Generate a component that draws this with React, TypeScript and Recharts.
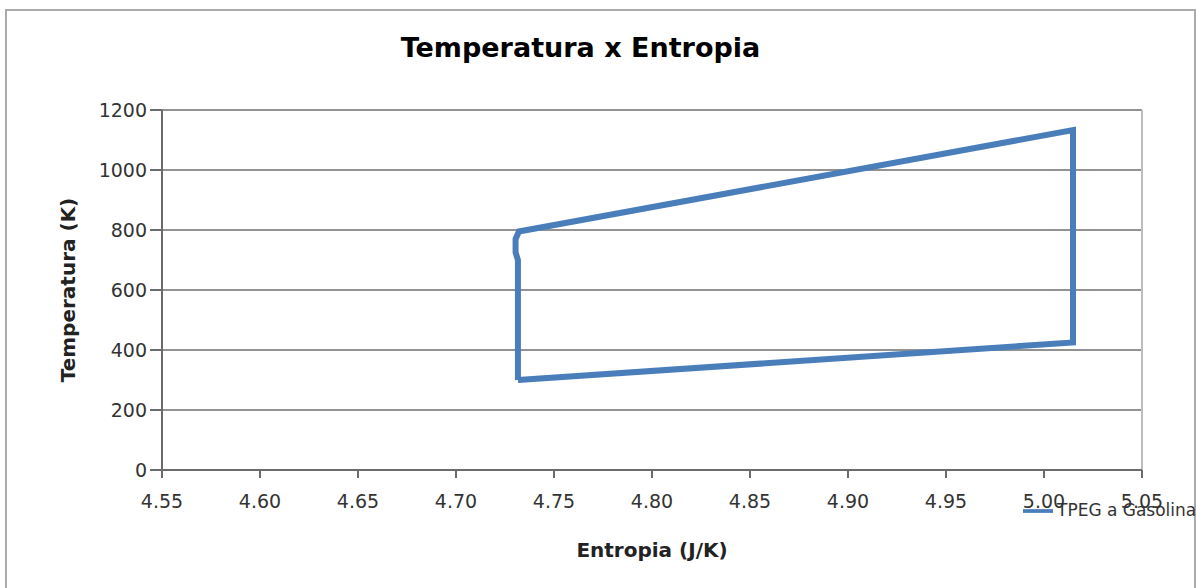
import React from "react";
import {
  LineChart,
  Line,
  XAxis,
  YAxis,
  CartesianGrid,
  Legend,
  ReferenceLine,
} from "recharts";

// Cycle path, traced point by point in order (entropy in J/K, temperature in K)
const entropy = [4.7316, 5.0148, 5.0148, 4.7321, 4.7304, 4.7304, 4.7316, 4.7316];
const temperature = [300, 425, 1133, 795, 770, 725, 700, 300];

const xTicks = [4.55, 4.6, 4.65, 4.7, 4.75, 4.8, 4.85, 4.9, 4.95, 5.0, 5.05];
const yTicks = [0, 200, 400, 600, 800, 1000, 1200];

const seriesName = "TPEG a Gasolina";
const chartTitle = "Temperatura x Entropia";
const xTitle = "Entropia (J/K)";
const yTitle = "Temperatura (K)";

const data = entropy.map((s, i) => ({ s, t: temperature[i] }));

const FONT = "'DejaVu Sans', sans-serif";
const AXIS = "#6b6b6b";

export default function App() {
  return (
    <div
      style={{
        position: "absolute",
        left: 0,
        top: 0,
        width: 1196,
        height: 588,
        overflow: "hidden",
        background: "#fff",
        fontFamily: FONT,
      }}
    >
      <div
        style={{
          position: "absolute",
          left: 5,
          top: 9,
          width: 1191,
          height: 620,
          boxSizing: "border-box",
          border: "2px solid #ababab",
        }}
      />
      <div
        style={{
          position: "absolute",
          left: 380,
          top: 34,
          width: 401,
          textAlign: "center",
          fontSize: 27,
          lineHeight: "27px",
          fontWeight: "bold",
          color: "#000",
          whiteSpace: "nowrap",
        }}
      >
        {chartTitle}
      </div>
      <div style={{ position: "absolute", left: 0, top: 0 }}>
        <LineChart
          width={1196}
          height={588}
          data={data}
          margin={{ top: 110, right: 54, bottom: 48, left: 102 }}
          style={{ fontFamily: FONT }}
        >
          <CartesianGrid
            vertical={false}
            stroke="#6e6e6e"
            strokeWidth={1.5}
            horizontalValues={yTicks}
          />
          <ReferenceLine x={5.05} stroke="#bdbdbd" strokeWidth={2} />
          <XAxis
            type="number"
            dataKey="s"
            domain={[4.55, 5.05]}
            ticks={xTicks}
            interval={0}
            height={40}
            tickFormatter={(v: number) => v.toFixed(2)}
            tick={{ fill: "#333", fontSize: 19 }}
            tickSize={8}
            tickMargin={17}
            axisLine={{ stroke: AXIS, strokeWidth: 2 }}
            tickLine={{ stroke: AXIS, strokeWidth: 2 }}
            allowDataOverflow
            label={{
              value: xTitle,
              position: "bottom",
              offset: 33,
              fill: "#222",
              fontSize: 20,
              fontWeight: "bold",
            }}
          />
          <YAxis
            type="number"
            domain={[0, 1200]}
            ticks={yTicks}
            interval={0}
            width={60}
            tick={{ fill: "#333", fontSize: 19 }}
            tickSize={12}
            tickMargin={3}
            axisLine={{ stroke: AXIS, strokeWidth: 2 }}
            tickLine={{ stroke: AXIS, strokeWidth: 2 }}
            label={{
              value: yTitle,
              angle: -90,
              position: "left",
              offset: 34,
              fill: "#222",
              fontSize: 20,
              fontWeight: "bold",
              style: { textAnchor: "middle" },
            }}
          />
          <Line
            type="linear"
            dataKey="t"
            name={seriesName}
            stroke="#4a7ebb"
            strokeWidth={6}
            dot={false}
            activeDot={false}
            legendType="plainline"
            isAnimationActive={false}
          />
          <Legend
            iconSize={30}
            formatter={(value: string) => (
              <span style={{ color: "#333", fontSize: 17, whiteSpace: "nowrap" }}>{value}</span>
            )}
            wrapperStyle={{
              position: "absolute",
              left: 1023,
              top: 496,
              width: "auto",
              whiteSpace: "nowrap",
            }}
          />
        </LineChart>
      </div>
    </div>
  );
}
